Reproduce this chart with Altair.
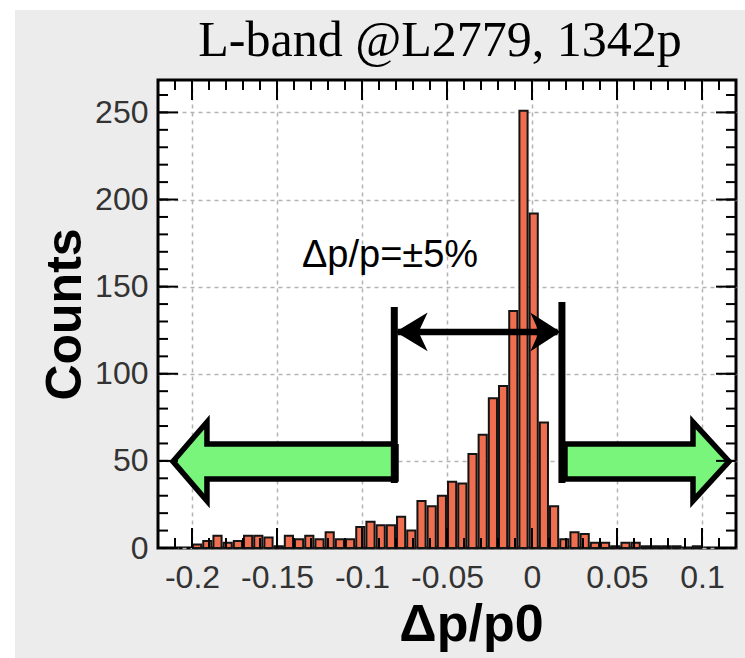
import altair as alt
import pandas as pd

TITLE = "L-band @L2779, 1342p"
X_TITLE = "Δp/p0"
Y_TITLE = "Counts"
NOTE = "Δp/p=±5%"

# histogram: 50 bins of width 0.006 from -0.2 to 0.1
bin_width = 0.006
bin_lo = [round(-0.2 + bin_width * i, 4) for i in range(50)]
counts = [2, 4, 7, 3, 4, 7, 7, 6, 1, 7,
          5, 7, 5, 9, 5, 5, 12, 15, 13, 13,
          18, 10, 27, 24, 30, 38, 37, 54, 65, 86,
          93, 136, 251, 192, 72, 24, 5, 9, 8, 3,
          3, 1, 3, 3, 1, 1, 1, 1, 0, 1]

x_major = [-0.2, -0.15, -0.1, -0.05, 0, 0.05, 0.1]
x_minor = [round(-0.22 + 0.01 * i, 3) for i in range(35)]
y_major = [0, 50, 100, 150, 200, 250]
y_minor = [10 * i for i in range(27)]

# annotation geometry in data units
left_arrow_x = [-0.08, -0.1912, -0.1912, -0.2112, -0.1912, -0.1912, -0.08, -0.08]
right_arrow_x = [0.0194, 0.0947, 0.0947, 0.1159, 0.0947, 0.0947, 0.0194, 0.0194]
arrow_y = [59.7, 59.7, 72.3, 49.7, 27.0, 39.6, 39.6, 59.7]

band_x = [-0.081, 0.0176]
band_y_lo = [37.3, 37.3]
band_y_hi = [138.3, 141.2]
span_x = [-0.079, 0.015]
span_y = 124.0
head_l_x = [-0.0794, -0.0624, -0.0672, -0.0624, -0.0794]
head_r_x = [0.0159, 0.0, 0.0047, 0.0, 0.0159]
head_y = [124.0, 134.0, 124.0, 114.0, 124.0]
note_x = -0.0835
note_y = 161.0

W, H = 578, 468
xs = alt.Scale(domain=[-0.22, 0.12], nice=False, zero=False)
ys = alt.Scale(domain=[0, 268.6], nice=False, zero=False)

grid_common = dict(grid=True, gridDash=[4, 4], gridColor="#b4b4b4", gridWidth=1.5,
                   ticks=False, domain=False, labelFont="Liberation Sans",
                   labelFontSize=32, labelColor="#333333",
                   titleFont="Liberation Sans", titleFontWeight="bold", titleColor="black")
x_axis = alt.Axis(
    values=x_major, title=X_TITLE,
    labelExpr="replace(format(datum.value, '.2~f'), '\u2212', '-')",
    labelPadding=14, titleFontSize=52, titleX=313, titleY=92,
    titleAlign="center", titleBaseline="alphabetic", **grid_common)
y_axis = alt.Axis(
    values=y_major, format="d", title=Y_TITLE, labelPadding=10,
    titleFontSize=50, titlePadding=4, **grid_common)


def X(field):
    return alt.X(field, scale=xs, axis=x_axis)


def Y(field):
    return alt.Y(field, scale=ys, axis=y_axis)


bars_df = pd.DataFrame({
    "x0": [v + 0.0006 for v in bin_lo],
    "x1": [v + bin_width - 0.0006 for v in bin_lo],
    "count": counts,
    "base": [0] * len(counts),
})

bars = alt.Chart(bars_df).mark_bar(
    fill="#f06e50", stroke="#141414", strokeWidth=2
).encode(
    x=X("x0:Q"), x2="x1:Q",
    y=Y("count:Q"), y2="base:Q",
)

arrows_df = pd.DataFrame({
    "x": left_arrow_x + right_arrow_x,
    "y": arrow_y + arrow_y,
    "o": list(range(len(left_arrow_x))) + list(range(len(right_arrow_x))),
    "id": ["L"] * len(left_arrow_x) + ["R"] * len(right_arrow_x),
})
green = alt.Chart(arrows_df).mark_line(
    fill="#78f57a", stroke="black", strokeWidth=5.5, strokeJoin="miter"
).encode(x=X("x:Q"), y=Y("y:Q"), order="o:Q", detail="id:N")

band_df = pd.DataFrame({"x": band_x, "y0": band_y_lo, "y1": band_y_hi})
bands = alt.Chart(band_df).mark_rule(color="black", strokeWidth=7).encode(
    x=X("x:Q"), y=Y("y0:Q"), y2="y1:Q",
)

span_df = pd.DataFrame({"x0": [span_x[0]], "x1": [span_x[1]], "y": [span_y]})
span = alt.Chart(span_df).mark_rule(color="black", strokeWidth=6.5).encode(
    x=X("x0:Q"), x2="x1:Q", y=Y("y:Q"),
)

heads_df = pd.DataFrame({
    "x": head_l_x + head_r_x,
    "y": head_y + head_y,
    "o": list(range(5)) + list(range(5)),
    "id": ["L"] * 5 + ["R"] * 5,
})
heads = alt.Chart(heads_df).mark_line(
    fill="black", stroke="black", strokeWidth=1.5, strokeJoin="miter"
).encode(x=X("x:Q"), y=Y("y:Q"), order="o:Q", detail="id:N")

note = alt.Chart(pd.DataFrame({"x": [note_x], "y": [note_y], "t": [NOTE]})).mark_text(
    font="Liberation Sans", fontSize=38, align="center", baseline="alphabetic", color="black"
).encode(x=X("x:Q"), y=Y("y:Q"), text="t:N")


def xticks(vals, length):
    df = pd.DataFrame({"v": vals})
    base = alt.Chart(df).mark_rule(color="black", strokeWidth=2)
    return [
        base.encode(x=X("v:Q"), y=alt.value(H), y2=alt.value(H - length)),
        base.encode(x=X("v:Q"), y=alt.value(0), y2=alt.value(length)),
    ]


def yticks(vals, length):
    df = pd.DataFrame({"v": vals})
    base = alt.Chart(df).mark_rule(color="black", strokeWidth=2)
    return [
        base.encode(y=Y("v:Q"), x=alt.value(0), x2=alt.value(length)),
        base.encode(y=Y("v:Q"), x=alt.value(W), x2=alt.value(W - length)),
    ]


one = alt.Data(values=[{"a": 1}])
strip_left = alt.Chart(one).mark_rect(color="white", clip=False).encode(
    x=alt.value(-158), x2=alt.value(-143), y=alt.value(-80), y2=alt.value(H + 110))
strip_top = alt.Chart(one).mark_rect(color="white", clip=False).encode(
    x=alt.value(-158), x2=alt.value(W + 9), y=alt.value(-80), y2=alt.value(-70))

layers = [strip_left, strip_top, bars, green, bands, span, heads, note]
layers += xticks(x_minor, 10) + xticks(x_major, 20) + yticks(y_minor, 10) + yticks(y_major, 20)

# the white strips reach above the frame, so the title offset is measured
# from their top edge; the negative offset brings it back below the strip
chart = alt.layer(*layers).properties(
    width=W, height=H,
    title=alt.TitleParams(TITLE, font="Liberation Serif", fontSize=50, fontWeight="normal",
                          color="black", anchor="middle", dx=-7, offset=-106,
                          baseline="alphabetic", frame="group"),
    padding={"left": 158, "top": 80, "right": 9, "bottom": 110},
    autosize=alt.AutoSizeParams(type="none"),
    background="#ececec",
).configure_view(
    stroke="black", strokeWidth=3, fill="white"
)

chart.save("out.html", embed_options={"renderer": "svg", "actions": False})
